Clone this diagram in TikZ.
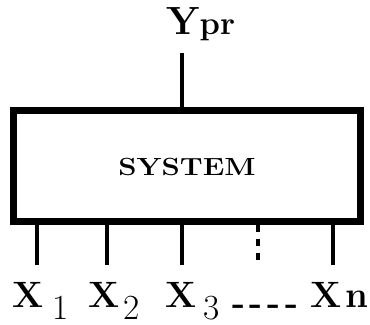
\documentclass[tikz,border=0pt]{standalone}
\usepackage{fontspec}
\usepackage{graphicx}
\usetikzlibrary{positioning}
\tikzset{
  sysbox/.style={draw,line width=5.25pt,minimum width=260.6pt,minimum height=82.9pt,inner sep=0pt},
  wire/.style={line width=2.8pt},
  lbl/.style={inner sep=0pt,anchor=base west,font=\fontsize{27.5}{30}\selectfont}
}
\newcommand{\xin}[2]{{\bfseries X}\kern#1\raisebox{-9pt}{\fontsize{26.5}{30}\selectfont#2}}

\begin{document}
\begin{tikzpicture}[x=0.75pt,y=-0.75pt]
  \useasboundingbox (0,0) rectangle (370,324);
  \node[sysbox] (sys) at (187.25,165.75) {};
  \node[inner sep=0pt,font=\bfseries\fontsize{18.6}{20}\selectfont] (syslbl) at (187,167) {\scalebox{1.18}[1]{SYSTEM}};
  % output
  \node[lbl,font=\bfseries\fontsize{29.5}{32}\selectfont] (ypr) at (166,35) {Y{\fontsize{24.5}{26}\selectfont pr}};
  \coordinate (ytop) at (182,53);
  \draw[wire] (ytop) -- (ytop |- sys.north);
  % inputs
  \node[lbl] (x1) at (12,307) {\xin{7pt}{1}};
  \node[lbl] (x2) at (88,307) {\xin{3pt}{2}};
  \node[lbl] (x3) at (165,307) {\xin{5pt}{3}};
  \node[lbl,font=\bfseries\fontsize{26}{30}\selectfont] (dots) at (232,314) {-\kern3.5pt-\kern3.5pt-\kern3.5pt-};
  \node[lbl] (xn) at (310,307) {{\bfseries X}\kern3pt{\bfseries n}};
  \foreach \name/\xx in {e1/37,e2/107,e3/182,en/333}
    \coordinate (\name) at (\xx,265);
  \foreach \name in {e1,e2,e3,en}
    \draw[wire] (\name) -- (\name |- sys.south);
  \coordinate (ed) at (258,263);
  \draw[wire,dash pattern=on 5.25pt off 5.25pt] (ed |- sys.south) -- (ed);
\end{tikzpicture}
\end{document}
